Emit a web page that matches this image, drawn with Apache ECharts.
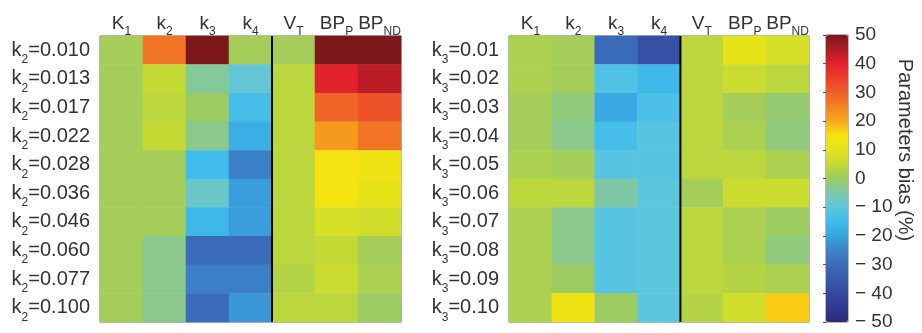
<!DOCTYPE html>
<html><head><meta charset="utf-8">
<script src="https://cdn.jsdelivr.net/npm/echarts@6/dist/echarts.min.js"></script>
<style>html,body{margin:0;padding:0;background:#fff}#c{width:922px;height:333px}</style>
</head><body><div id="c"></div>
<script>
const columns = ['K_1','k_2','k_3','k_4','V_T','BP_P','BP_ND'];
const leftRows = ['k_2=0.010','k_2=0.013','k_2=0.017','k_2=0.022','k_2=0.028','k_2=0.036','k_2=0.046','k_2=0.060','k_2=0.077','k_2=0.100'];
const rightRows = ['k_3=0.01','k_3=0.02','k_3=0.03','k_3=0.04','k_3=0.05','k_3=0.06','k_3=0.07','k_3=0.08','k_3=0.09','k_3=0.10'];
// bias (%) per row: K1, k2, k3, k4, VT, BPP, BPND
const leftValues = [
  [1, 27, 50, 1, 1, 50, 50],
  [1, 5, -4, -9, 4, 40, 44],
  [1, 4, 0, -14, 4, 29, 32],
  [1, 5, -3, -18, 4, 22, 27],
  [1, 1, -15, -26, 4, 14, 13],
  [1, 1, -8, -21, 4, 14, 11],
  [1, 1, -16, -21, 4, 8, 7],
  [1, -3, -30, -30, 4, 5, 1],
  [1, -3, -26, -26, 3, 6, 2],
  [1, -3, -30, -22, 4, 4, 0]
];
const rightValues = [
  [2, 1, -30, -38, 4, 11, 8],
  [2, 1, -12, -16, 4, 6, 4],
  [1, -2, -19, -13, 4, 1, -1],
  [1, -3, -14, -11, 4, 2, -2],
  [2, 1, -11, -11, 4, 4, 2],
  [4, 4, -5, -10, 1, 6, 6],
  [2, -3, -11, -10, 4, 2, 0],
  [2, -3, -11, -10, 4, 2, -2],
  [2, 0, -11, -10, 4, 3, 2],
  [2, 13, 0, -10, 3, 7, 17]
];
const colorbarTicks = [-50, 50, 10]; // min, max, interval
const separatorAt = 4; // between k4 and VT
const jet = ['#2d2a7e','#31398f','#344a9f','#375aac','#3a6bb8','#3b84c9','#38a4e0','#40bceb','#5dc6df','#7ec8a6',
  '#9ccb62','#c4da34','#e2e41c','#f8e20e','#f8a81c','#f48224','#ef5f28','#ea3e2a','#e2222c','#b01c24','#7c171b'];

const toRich = s => s.replace(/_([^=]+)/, '{s|$1}');
const FONT = 'Liberation Sans, Arial, sans-serif';
const TXT = '#333';
const richX = {s: {fontSize: 12, fontFamily: FONT, color: TXT, padding: [16, 0, 0, 0], lineHeight: 12}};
const richY = {s: {fontSize: 12, fontFamily: FONT, color: TXT, padding: [19, 0, 0, 0], lineHeight: 12}};
const toData = vals => vals.flatMap((row, r) => row.map((v, c) => [c, r, v]));

const grids = [
  {left: 100, top: 36, width: 301, height: 286},
  {left: 509, top: 36, width: 300, height: 286},
  {left: 826, top: 35, width: 22, height: 287}
].map(g => Object.assign({show: true, borderColor: '#6e7260', borderWidth: 1, backgroundColor: 'transparent'}, g));

const catX = gi => ({
  type: 'category', gridIndex: gi, data: columns, position: 'top',
  axisLine: {show: false}, axisTick: {show: false}, splitLine: {show: false},
  axisLabel: {formatter: toRich, rich: richX, fontSize: 19, fontFamily: FONT, color: TXT, margin: 3, interval: 0}
});
const catY = (gi, rows) => ({
  type: 'category', gridIndex: gi, data: rows, inverse: true,
  axisLine: {show: false}, axisTick: {show: false}, splitLine: {show: false},
  axisLabel: {formatter: toRich, rich: richY, fontSize: 20, fontFamily: FONT, color: TXT, margin: 10, interval: 0}
});
const hidX = gi => ({type: 'value', gridIndex: gi, min: 0, max: columns.length, show: false});
const hidY = gi => ({type: 'value', gridIndex: gi, min: 0, max: 10, show: false});

const option = {
  animation: false,
  grid: grids,
  xAxis: [catX(0), catX(1), hidX(0), hidX(1), {type: 'value', gridIndex: 2, show: false}],
  yAxis: [catY(0, leftRows), catY(1, rightRows), hidY(0), hidY(1), {
    type: 'value', gridIndex: 2, min: colorbarTicks[0], max: colorbarTicks[1], interval: colorbarTicks[2], position: 'right',
    axisLine: {show: false}, splitLine: {show: false},
    axisTick: {show: true, inside: true, length: 3, lineStyle: {color: '#555'}},
    axisLabel: {fontSize: 19, fontFamily: FONT, color: TXT, margin: 7,
      formatter: v => v < 0 ? '\u2212 ' + (-v) : String(v)}
  }],
  visualMap: {
    type: 'continuous', min: -50, max: 50, seriesIndex: [0, 1], calculable: false,
    left: 826, top: 35, itemWidth: 22, itemHeight: 287, padding: 0, text: null, showLabel: false,
    inRange: {color: jet}
  },
  graphic: [{
    type: 'text', x: 905, y: 150, rotation: -Math.PI / 2,
    style: {text: 'Parameters bias (%)', fontSize: 20, fontFamily: FONT, fill: TXT, align: 'center', verticalAlign: 'middle'}
  }],
  series: [
    {type: 'heatmap', xAxisIndex: 0, yAxisIndex: 0, data: toData(leftValues), itemStyle: {borderWidth: 0}, emphasis: {disabled: true}},
    {type: 'heatmap', xAxisIndex: 1, yAxisIndex: 1, data: toData(rightValues), itemStyle: {borderWidth: 0}, emphasis: {disabled: true}},
    {type: 'line', xAxisIndex: 2, yAxisIndex: 2, data: [[separatorAt, 0], [separatorAt, 10]], symbol: 'none', lineStyle: {color: '#000', width: 2}, z: 5},
    {type: 'line', xAxisIndex: 3, yAxisIndex: 3, data: [[separatorAt, 0], [separatorAt, 10]], symbol: 'none', lineStyle: {color: '#000', width: 2}, z: 5}
  ]
};
const chart = echarts.init(document.getElementById('c'), null, {renderer: 'canvas'});
chart.setOption(option);
</script></body></html>
